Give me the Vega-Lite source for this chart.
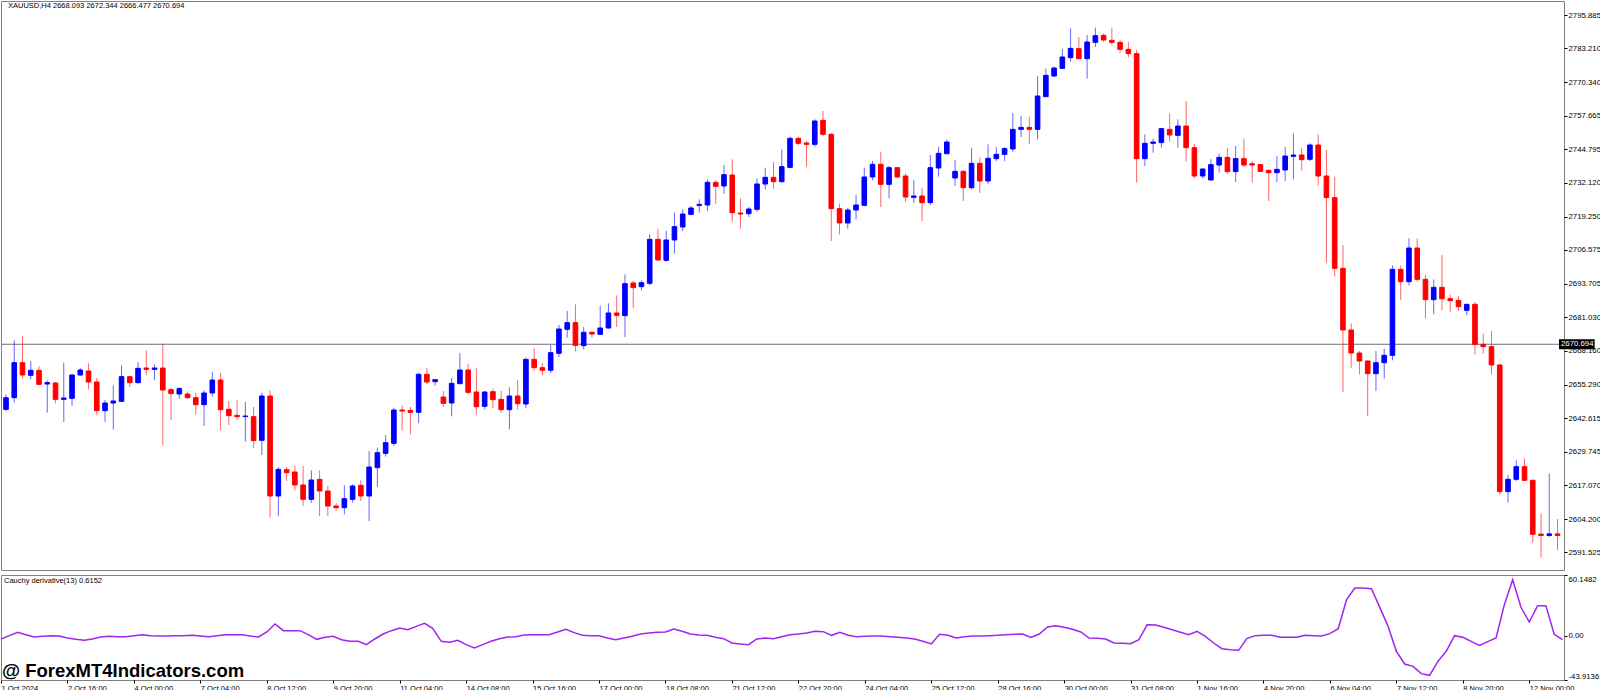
{
  "$schema": "https://vega.github.io/schema/vega-lite/v6.json",
  "padding": 0,
  "spacing": 3,
  "background": "#ffffff",
  "config": {
    "font": "Liberation Sans",
    "view": {"stroke": "#808080", "strokeWidth": 1},
    "axis": {"labelFont": "Liberation Sans", "labelColor": "#000000", "tickColor": "#000000", "domain": false, "grid": false, "labelOverlap": false}
  },
  "datasets": {
    "bars": [
      {"i":0,"o":2645.95,"h":2651.65,"l":2645.32,"c":2650.39,"v":-3.28},
      {"i":1,"o":2650.39,"h":2672.18,"l":2648.48,"c":2663.69,"v":0.03},
      {"i":2,"o":2663.69,"h":2673.83,"l":2657.74,"c":2659.00,"v":3.33},
      {"i":3,"o":2658.88,"h":2664.33,"l":2657.36,"c":2660.78,"v":1.02},
      {"i":4,"o":2660.78,"h":2662.30,"l":2655.20,"c":2655.46,"v":-1.29},
      {"i":5,"o":2655.58,"h":2656.98,"l":2644.68,"c":2656.09,"v":-0.63},
      {"i":6,"o":2655.96,"h":2656.34,"l":2648.23,"c":2649.75,"v":0.03},
      {"i":7,"o":2649.75,"h":2663.69,"l":2641.13,"c":2650.26,"v":-0.30},
      {"i":8,"o":2650.13,"h":2659.51,"l":2647.22,"c":2659.00,"v":-2.29},
      {"i":9,"o":2659.00,"h":2661.79,"l":2658.62,"c":2660.90,"v":-3.61},
      {"i":10,"o":2660.52,"h":2663.44,"l":2653.55,"c":2656.34,"v":-4.60},
      {"i":11,"o":2656.34,"h":2657.86,"l":2643.67,"c":2645.44,"v":-3.28},
      {"i":12,"o":2645.44,"h":2649.50,"l":2641.13,"c":2648.36,"v":-1.29},
      {"i":13,"o":2648.36,"h":2655.07,"l":2638.22,"c":2649.12,"v":-0.63},
      {"i":14,"o":2648.99,"h":2662.68,"l":2648.74,"c":2658.37,"v":-0.96},
      {"i":15,"o":2658.37,"h":2658.62,"l":2654.44,"c":2656.09,"v":-0.96},
      {"i":16,"o":2656.09,"h":2663.95,"l":2655.84,"c":2661.54,"v":0.03},
      {"i":17,"o":2661.67,"h":2668.38,"l":2658.88,"c":2661.16,"v":1.02},
      {"i":18,"o":2661.16,"h":2663.06,"l":2657.10,"c":2661.67,"v":0.03},
      {"i":19,"o":2661.67,"h":2670.92,"l":2632.26,"c":2653.30,"v":-0.30},
      {"i":20,"o":2653.43,"h":2654.19,"l":2641.89,"c":2651.91,"v":-0.30},
      {"i":21,"o":2651.78,"h":2654.44,"l":2650.00,"c":2653.81,"v":0.03},
      {"i":22,"o":2651.78,"h":2652.79,"l":2650.00,"c":2650.39,"v":0.03},
      {"i":23,"o":2650.39,"h":2652.16,"l":2644.05,"c":2647.72,"v":0.36},
      {"i":24,"o":2647.72,"h":2653.17,"l":2639.61,"c":2652.16,"v":-0.30},
      {"i":25,"o":2652.16,"h":2660.14,"l":2650.76,"c":2657.10,"v":-0.96},
      {"i":26,"o":2657.10,"h":2659.76,"l":2637.96,"c":2645.82,"v":0.03},
      {"i":27,"o":2645.95,"h":2649.12,"l":2639.99,"c":2643.54,"v":1.02},
      {"i":28,"o":2643.67,"h":2649.50,"l":2641.89,"c":2643.16,"v":1.02},
      {"i":29,"o":2643.16,"h":2648.74,"l":2633.66,"c":2643.41,"v":1.02},
      {"i":30,"o":2643.16,"h":2646.84,"l":2631.25,"c":2634.04,"v":-0.30},
      {"i":31,"o":2634.16,"h":2652.29,"l":2628.58,"c":2651.02,"v":-1.29},
      {"i":32,"o":2651.02,"h":2653.17,"l":2604.76,"c":2613.00,"v":3.66},
      {"i":33,"o":2613.00,"h":2624.02,"l":2605.39,"c":2623.14,"v":11.59},
      {"i":34,"o":2623.01,"h":2624.02,"l":2618.70,"c":2621.87,"v":4.98},
      {"i":35,"o":2622.12,"h":2624.40,"l":2615.15,"c":2617.18,"v":4.98},
      {"i":36,"o":2617.18,"h":2624.40,"l":2609.20,"c":2611.73,"v":4.98},
      {"i":37,"o":2611.73,"h":2622.76,"l":2610.46,"c":2619.08,"v":1.02},
      {"i":38,"o":2619.33,"h":2622.76,"l":2605.39,"c":2614.90,"v":-3.61},
      {"i":39,"o":2614.90,"h":2616.80,"l":2605.39,"c":2609.20,"v":-1.63},
      {"i":40,"o":2609.20,"h":2610.21,"l":2607.29,"c":2608.56,"v":-0.63},
      {"i":41,"o":2608.56,"h":2617.05,"l":2606.03,"c":2611.98,"v":-3.94},
      {"i":42,"o":2611.73,"h":2617.43,"l":2610.46,"c":2616.80,"v":-5.59},
      {"i":43,"o":2617.05,"h":2618.95,"l":2611.10,"c":2613.00,"v":-5.59},
      {"i":44,"o":2613.00,"h":2630.11,"l":2603.49,"c":2624.02,"v":-8.89},
      {"i":45,"o":2623.77,"h":2631.38,"l":2616.42,"c":2629.47,"v":-3.28},
      {"i":46,"o":2629.22,"h":2636.19,"l":2627.95,"c":2633.27,"v":1.68},
      {"i":47,"o":2633.02,"h":2646.58,"l":2632.01,"c":2645.69,"v":4.98},
      {"i":48,"o":2645.69,"h":2647.47,"l":2638.09,"c":2645.31,"v":7.62},
      {"i":49,"o":2645.56,"h":2646.84,"l":2636.44,"c":2644.81,"v":5.97},
      {"i":50,"o":2644.81,"h":2659.89,"l":2640.63,"c":2659.26,"v":9.28},
      {"i":51,"o":2659.26,"h":2661.79,"l":2655.45,"c":2656.34,"v":12.25},
      {"i":52,"o":2656.47,"h":2657.48,"l":2654.95,"c":2657.23,"v":6.96},
      {"i":53,"o":2650.64,"h":2652.92,"l":2646.84,"c":2648.23,"v":-5.59},
      {"i":54,"o":2648.36,"h":2657.86,"l":2643.29,"c":2655.84,"v":-6.58},
      {"i":55,"o":2655.71,"h":2667.37,"l":2655.45,"c":2660.90,"v":-4.60},
      {"i":56,"o":2660.90,"h":2663.31,"l":2651.65,"c":2652.41,"v":-8.89},
      {"i":57,"o":2652.54,"h":2661.54,"l":2644.05,"c":2646.96,"v":-12.20},
      {"i":58,"o":2647.09,"h":2652.92,"l":2645.95,"c":2652.54,"v":-8.89},
      {"i":59,"o":2652.67,"h":2653.81,"l":2646.33,"c":2649.62,"v":-5.59},
      {"i":60,"o":2649.75,"h":2652.92,"l":2644.68,"c":2645.82,"v":-2.95},
      {"i":61,"o":2645.82,"h":2654.31,"l":2638.35,"c":2651.02,"v":-1.29},
      {"i":62,"o":2651.02,"h":2657.10,"l":2645.82,"c":2648.10,"v":-0.96},
      {"i":63,"o":2647.98,"h":2665.59,"l":2646.33,"c":2664.96,"v":0.69},
      {"i":64,"o":2664.96,"h":2669.14,"l":2660.50,"c":2661.79,"v":1.02},
      {"i":65,"o":2661.79,"h":2663.50,"l":2658.90,"c":2660.80,"v":1.02},
      {"i":66,"o":2660.80,"h":2670.41,"l":2659.80,"c":2667.49,"v":1.02},
      {"i":67,"o":2667.24,"h":2678.02,"l":2665.85,"c":2676.49,"v":3.66},
      {"i":68,"o":2676.37,"h":2683.34,"l":2673.20,"c":2678.90,"v":6.30},
      {"i":69,"o":2678.90,"h":2685.87,"l":2667.88,"c":2670.29,"v":3.00},
      {"i":70,"o":2670.16,"h":2677.25,"l":2668.76,"c":2675.23,"v":0.36},
      {"i":71,"o":2675.23,"h":2675.73,"l":2673.20,"c":2674.59,"v":0.03},
      {"i":72,"o":2674.47,"h":2685.24,"l":2674.21,"c":2676.88,"v":0.03},
      {"i":73,"o":2676.88,"h":2686.25,"l":2676.62,"c":2682.58,"v":-2.29},
      {"i":74,"o":2682.58,"h":2689.29,"l":2677.25,"c":2681.69,"v":-3.94},
      {"i":75,"o":2681.56,"h":2697.29,"l":2673.45,"c":2693.73,"v":-2.29},
      {"i":76,"o":2693.99,"h":2694.75,"l":2684.35,"c":2692.21,"v":-0.63},
      {"i":77,"o":2692.59,"h":2695.00,"l":2691.20,"c":2694.11,"v":1.68},
      {"i":78,"o":2693.86,"h":2712.49,"l":2693.22,"c":2710.59,"v":2.67},
      {"i":79,"o":2710.59,"h":2714.64,"l":2702.60,"c":2702.73,"v":3.33},
      {"i":80,"o":2702.60,"h":2713.76,"l":2702.10,"c":2710.34,"v":3.66},
      {"i":81,"o":2710.34,"h":2720.73,"l":2705.14,"c":2715.40,"v":6.63},
      {"i":82,"o":2715.28,"h":2721.99,"l":2713.76,"c":2720.22,"v":4.32},
      {"i":83,"o":2720.09,"h":2723.26,"l":2719.71,"c":2722.50,"v":1.68},
      {"i":84,"o":2723.51,"h":2725.80,"l":2720.73,"c":2723.89,"v":0.69},
      {"i":85,"o":2723.64,"h":2733.40,"l":2721.36,"c":2732.26,"v":0.36},
      {"i":86,"o":2732.26,"h":2733.02,"l":2724.15,"c":2730.74,"v":-1.63},
      {"i":87,"o":2730.87,"h":2738.85,"l":2727.95,"c":2735.18,"v":-2.95},
      {"i":88,"o":2735.05,"h":2741.00,"l":2717.30,"c":2720.73,"v":-7.24},
      {"i":89,"o":2720.60,"h":2726.18,"l":2714.64,"c":2720.22,"v":-8.23},
      {"i":90,"o":2720.35,"h":2722.88,"l":2719.08,"c":2722.12,"v":-8.89},
      {"i":91,"o":2721.99,"h":2733.78,"l":2721.11,"c":2731.63,"v":-3.28},
      {"i":92,"o":2731.63,"h":2737.84,"l":2729.60,"c":2734.16,"v":-2.29},
      {"i":93,"o":2734.16,"h":2739.99,"l":2729.85,"c":2732.51,"v":-2.95},
      {"i":94,"o":2732.51,"h":2744.81,"l":2732.13,"c":2738.22,"v":-0.96},
      {"i":95,"o":2737.96,"h":2749.62,"l":2737.58,"c":2748.99,"v":1.02},
      {"i":96,"o":2748.99,"h":2749.62,"l":2746.33,"c":2747.09,"v":1.68},
      {"i":97,"o":2747.22,"h":2747.98,"l":2738.22,"c":2746.71,"v":2.67},
      {"i":98,"o":2746.71,"h":2756.21,"l":2745.82,"c":2755.58,"v":4.32},
      {"i":99,"o":2755.84,"h":2759.38,"l":2749.88,"c":2750.51,"v":3.99},
      {"i":100,"o":2750.51,"h":2751.15,"l":2709.95,"c":2722.25,"v":0.36},
      {"i":101,"o":2722.25,"h":2724.15,"l":2712.49,"c":2716.80,"v":3.33},
      {"i":102,"o":2716.80,"h":2722.63,"l":2714.64,"c":2721.74,"v":0.36},
      {"i":103,"o":2721.74,"h":2727.45,"l":2718.19,"c":2723.64,"v":-0.96},
      {"i":104,"o":2723.52,"h":2737.84,"l":2723.14,"c":2734.29,"v":-0.63},
      {"i":105,"o":2734.29,"h":2740.37,"l":2733.02,"c":2739.11,"v":-0.30},
      {"i":106,"o":2739.11,"h":2743.92,"l":2722.88,"c":2731.50,"v":-0.30},
      {"i":107,"o":2731.50,"h":2738.47,"l":2726.18,"c":2737.84,"v":-0.96},
      {"i":108,"o":2737.84,"h":2738.09,"l":2734.04,"c":2734.29,"v":-1.63},
      {"i":109,"o":2734.67,"h":2735.68,"l":2724.78,"c":2726.69,"v":-2.29},
      {"i":110,"o":2726.56,"h":2733.15,"l":2724.40,"c":2727.07,"v":-3.28},
      {"i":111,"o":2727.07,"h":2730.23,"l":2717.56,"c":2724.53,"v":-5.59},
      {"i":112,"o":2724.53,"h":2742.65,"l":2723.64,"c":2737.84,"v":-8.23},
      {"i":113,"o":2737.71,"h":2745.70,"l":2734.42,"c":2743.29,"v":1.35},
      {"i":114,"o":2743.16,"h":2748.48,"l":2742.91,"c":2747.60,"v":0.36},
      {"i":115,"o":2733.91,"h":2740.88,"l":2730.87,"c":2736.44,"v":-2.29},
      {"i":116,"o":2736.44,"h":2736.95,"l":2725.16,"c":2730.23,"v":-0.96},
      {"i":117,"o":2730.23,"h":2745.32,"l":2729.60,"c":2739.49,"v":-0.30},
      {"i":118,"o":2739.49,"h":2741.64,"l":2728.21,"c":2732.77,"v":-0.30},
      {"i":119,"o":2732.77,"h":2746.71,"l":2731.63,"c":2741.39,"v":0.03},
      {"i":120,"o":2741.26,"h":2745.70,"l":2740.37,"c":2742.91,"v":0.36},
      {"i":121,"o":2742.91,"h":2745.70,"l":2740.37,"c":2745.06,"v":1.02},
      {"i":122,"o":2744.94,"h":2758.62,"l":2743.79,"c":2752.41,"v":1.35},
      {"i":123,"o":2752.41,"h":2757.48,"l":2749.50,"c":2753.17,"v":1.68},
      {"i":124,"o":2753.17,"h":2757.23,"l":2746.71,"c":2752.41,"v":-1.63},
      {"i":125,"o":2752.41,"h":2772.69,"l":2748.61,"c":2765.09,"v":1.68},
      {"i":126,"o":2764.83,"h":2775.48,"l":2764.71,"c":2772.95,"v":8.62},
      {"i":127,"o":2772.69,"h":2776.24,"l":2772.31,"c":2775.73,"v":9.94},
      {"i":128,"o":2775.61,"h":2782.96,"l":2775.35,"c":2779.92,"v":8.29},
      {"i":129,"o":2779.66,"h":2790.82,"l":2778.14,"c":2783.21,"v":6.30},
      {"i":130,"o":2783.09,"h":2787.52,"l":2779.03,"c":2779.28,"v":3.66},
      {"i":131,"o":2779.28,"h":2788.28,"l":2771.68,"c":2785.62,"v":-2.29},
      {"i":132,"o":2785.49,"h":2791.07,"l":2783.72,"c":2788.03,"v":-2.62},
      {"i":133,"o":2788.15,"h":2788.91,"l":2785.75,"c":2786.38,"v":-3.28},
      {"i":134,"o":2786.25,"h":2791.07,"l":2784.35,"c":2785.49,"v":-7.24},
      {"i":135,"o":2785.49,"h":2786.50,"l":2781.50,"c":2782.83,"v":-7.57},
      {"i":136,"o":2782.83,"h":2785.60,"l":2779.80,"c":2781.20,"v":-7.90},
      {"i":137,"o":2781.20,"h":2782.50,"l":2732.13,"c":2741.26,"v":-3.94},
      {"i":138,"o":2741.26,"h":2750.51,"l":2738.47,"c":2747.09,"v":10.93},
      {"i":139,"o":2747.09,"h":2748.86,"l":2743.54,"c":2747.60,"v":10.60},
      {"i":140,"o":2747.35,"h":2752.90,"l":2745.44,"c":2752.67,"v":8.29},
      {"i":141,"o":2752.41,"h":2758.37,"l":2747.72,"c":2750.26,"v":5.97},
      {"i":142,"o":2750.13,"h":2756.22,"l":2745.44,"c":2753.68,"v":3.33},
      {"i":143,"o":2753.68,"h":2763.19,"l":2740.12,"c":2745.44,"v":1.02},
      {"i":144,"o":2745.44,"h":2746.96,"l":2733.78,"c":2734.67,"v":4.32},
      {"i":145,"o":2734.67,"h":2737.59,"l":2733.78,"c":2737.33,"v":-0.63},
      {"i":146,"o":2733.15,"h":2741.01,"l":2733.02,"c":2738.98,"v":-7.24},
      {"i":147,"o":2738.85,"h":2743.16,"l":2735.94,"c":2741.77,"v":-12.86},
      {"i":148,"o":2741.77,"h":2745.44,"l":2735.56,"c":2736.32,"v":-13.85},
      {"i":149,"o":2736.32,"h":2746.07,"l":2732.39,"c":2741.26,"v":-14.51},
      {"i":150,"o":2741.26,"h":2748.86,"l":2738.09,"c":2738.85,"v":-2.95},
      {"i":151,"o":2739.36,"h":2740.37,"l":2732.26,"c":2738.85,"v":0.03},
      {"i":152,"o":2738.98,"h":2739.36,"l":2736.32,"c":2736.44,"v":0.36},
      {"i":153,"o":2736.82,"h":2737.20,"l":2725.16,"c":2735.94,"v":0.36},
      {"i":154,"o":2735.94,"h":2742.27,"l":2732.39,"c":2737.20,"v":-1.63},
      {"i":155,"o":2736.95,"h":2745.70,"l":2732.77,"c":2742.27,"v":-1.63},
      {"i":156,"o":2742.15,"h":2750.77,"l":2733.40,"c":2742.65,"v":-1.63},
      {"i":157,"o":2742.65,"h":2745.44,"l":2736.82,"c":2740.88,"v":0.36},
      {"i":158,"o":2741.01,"h":2747.09,"l":2740.37,"c":2746.46,"v":0.03},
      {"i":159,"o":2746.46,"h":2750.51,"l":2731.12,"c":2734.67,"v":-0.30},
      {"i":160,"o":2734.67,"h":2744.56,"l":2701.72,"c":2726.43,"v":2.01},
      {"i":161,"o":2726.43,"h":2734.41,"l":2696.39,"c":2699.56,"v":6.96},
      {"i":162,"o":2699.56,"h":2708.43,"l":2652.54,"c":2676.11,"v":35.70},
      {"i":163,"o":2676.11,"h":2678.65,"l":2661.79,"c":2667.37,"v":47.27},
      {"i":164,"o":2667.37,"h":2668.13,"l":2659.26,"c":2664.33,"v":47.27},
      {"i":165,"o":2664.33,"h":2664.58,"l":2643.41,"c":2659.51,"v":46.61},
      {"i":166,"o":2659.51,"h":2668.13,"l":2652.92,"c":2663.69,"v":28.11},
      {"i":167,"o":2663.69,"h":2669.02,"l":2657.61,"c":2666.48,"v":9.28},
      {"i":168,"o":2666.48,"h":2700.70,"l":2664.58,"c":2699.18,"v":-15.50},
      {"i":169,"o":2699.18,"h":2700.70,"l":2687.52,"c":2694.49,"v":-28.05},
      {"i":170,"o":2694.49,"h":2710.97,"l":2693.10,"c":2707.29,"v":-30.37},
      {"i":171,"o":2707.29,"h":2710.97,"l":2694.49,"c":2695.38,"v":-37.64},
      {"i":172,"o":2695.38,"h":2697.03,"l":2680.55,"c":2687.65,"v":-39.29},
      {"i":173,"o":2687.65,"h":2695.38,"l":2682.07,"c":2692.34,"v":-25.41},
      {"i":174,"o":2692.34,"h":2704.63,"l":2683.72,"c":2688.03,"v":-15.50},
      {"i":175,"o":2688.03,"h":2689.68,"l":2683.08,"c":2687.27,"v":0.03},
      {"i":176,"o":2687.39,"h":2688.92,"l":2683.34,"c":2684.99,"v":-1.63},
      {"i":177,"o":2683.59,"h":2686.12,"l":2681.69,"c":2685.87,"v":-5.59},
      {"i":178,"o":2685.87,"h":2686.76,"l":2666.86,"c":2670.66,"v":-9.55},
      {"i":179,"o":2670.66,"h":2674.72,"l":2667.12,"c":2669.78,"v":-5.92},
      {"i":180,"o":2669.78,"h":2675.73,"l":2659.26,"c":2662.81,"v":-2.29},
      {"i":181,"o":2662.81,"h":2663.31,"l":2613.63,"c":2614.65,"v":30.75},
      {"i":182,"o":2614.65,"h":2620.98,"l":2610.46,"c":2619.34,"v":55.53},
      {"i":183,"o":2619.34,"h":2626.56,"l":2618.70,"c":2624.15,"v":28.11},
      {"i":184,"o":2624.15,"h":2627.32,"l":2618.70,"c":2618.95,"v":13.57},
      {"i":185,"o":2618.95,"h":2619.34,"l":2595.25,"c":2598.42,"v":29.76},
      {"i":186,"o":2598.50,"h":2606.40,"l":2589.50,"c":2598.00,"v":29.76},
      {"i":187,"o":2598.00,"h":2621.50,"l":2597.30,"c":2598.60,"v":1.35},
      {"i":188,"o":2598.60,"h":2604.20,"l":2592.40,"c":2598.00,"v":-3.94}
    ]
  },
  "vconcat": [
    {
      "width": 1563,
      "height": 569,
      "data": {"name": "bars"},
      "encoding": {
        "x": {"type": "quantitative", "scale": {"domain": [0, 188.18], "nice": false, "zero": false}, "axis": null},
        "y": {
          "type": "quantitative",
          "scale": {"domain": [2584.86, 2801.21], "nice": false, "zero": false},
          "axis": {
            "orient": "right",
            "title": null,
            "values": [2795.885, 2783.21, 2770.34, 2757.665, 2744.795, 2732.12, 2719.25, 2706.575, 2693.705, 2681.03, 2668.16, 2655.29, 2642.615, 2629.745, 2617.07, 2604.2, 2591.525],
            "format": ".3f",
            "tickSize": 3,
            "labelPadding": 1,
            "labelFontSize": 7.8
          }
        }
      },
      "layer": [
        {
          "data": {"values": [{"p": 2670.694}]},
          "mark": {"type": "rule", "color": "#707070", "strokeWidth": 1},
          "encoding": {
            "y": {"field": "p"}
          }
        },
        {
          "mark": {"type": "rule", "strokeWidth": 1, "opacity": 0.6, "clip": true},
          "encoding": {
            "x": {"field": "i"},
            "y": {"field": "l"},
            "y2": {"field": "h"},
            "color": {"condition": {"test": "datum.c >= datum.o", "value": "#0000ff"}, "value": "#ff0000"}
          }
        },
        {
          "mark": {"type": "bar", "width": 4.6, "strokeWidth": 1, "clip": true},
          "encoding": {
            "x": {"field": "i"},
            "y": {"field": "o"},
            "y2": {"field": "c"},
            "color": {"condition": {"test": "datum.c >= datum.o", "value": "#0000ff"}, "value": "#ff0000"},
            "stroke": {"condition": {"test": "datum.c >= datum.o", "value": "#0000ff"}, "value": "#ff0000"}
          }
        },
        {
          "data": {"values": [{"p": 2670.694, "a": 188.18, "b": 192.5, "t": 2672.6, "u": 2668.8}]},
          "mark": {"type": "rect", "color": "#000000"},
          "encoding": {
            "x": {"field": "a"},
            "x2": {"field": "b"},
            "y": {"field": "t"},
            "y2": {"field": "u"}
          }
        },
        {
          "data": {"values": [{"p": 2670.694, "a": 188.18}]},
          "mark": {"type": "text", "align": "left", "baseline": "middle", "dx": 2, "fontSize": 7.8, "color": "#ffffff", "text": "2670.694"},
          "encoding": {
            "x": {"field": "a"},
            "y": {"field": "p"}
          }
        },
        {
          "data": {"values": [{"p": 2801.21, "a": 0}]},
          "mark": {"type": "text", "align": "left", "baseline": "top", "dx": 2, "dy": 1, "fontSize": 7.5, "color": "#000000", "text": "XAUUSD,H4  2668.093 2672.344 2666.477 2670.694"},
          "encoding": {
            "x": {"field": "a"},
            "y": {"field": "p"}
          }
        }
      ]
    },
    {
      "width": 1563,
      "height": 105,
      "encoding": {
        "x": {
          "type": "quantitative",
          "scale": {"domain": [0, 188.18], "nice": false, "zero": false},
          "axis": {
            "orient": "bottom",
            "title": null,
            "values": [0, 8, 16, 24, 32, 40, 48, 56, 64, 72, 80, 88, 96, 104, 112, 120, 128, 136, 144, 152, 160, 168, 176, 184],
            "labelExpr": "['1 Oct 2024','2 Oct 16:00','4 Oct 00:00','7 Oct 04:00','8 Oct 12:00','9 Oct 20:00','11 Oct 04:00','14 Oct 08:00','15 Oct 16:00','17 Oct 00:00','18 Oct 08:00','21 Oct 12:00','22 Oct 20:00','24 Oct 04:00','25 Oct 12:00','28 Oct 16:00','30 Oct 00:00','31 Oct 08:00','1 Nov 16:00','4 Nov 20:00','6 Nov 04:00','7 Nov 12:00','8 Nov 20:00','12 Nov 00:00'][datum.value / 8]",
            "labelAlign": "left",
            "labelBaseline": "top",
            "labelFlush": false,
            "labelPadding": 1,
            "tickSize": 3,
            "labelFontSize": 7.5
          }
        },
        "y": {
          "type": "quantitative",
          "scale": {"domain": [-43.9136, 60.1482], "nice": false, "zero": false},
          "axis": {
            "orient": "right",
            "title": null,
            "values": [60.1482, 0, -43.9136],
            "labelExpr": "datum.value == 0 ? '0.00' : '' + datum.value",
            "labelFlush": true,
            "tickSize": 3,
            "labelPadding": 1,
            "labelFontSize": 7.8
          }
        }
      },
      "layer": [
        {
          "data": {"name": "bars"},
          "mark": {"type": "line", "color": "#a024f0", "strokeWidth": 1.5, "clip": true},
          "encoding": {
            "x": {"field": "i"},
            "y": {"field": "v"}
          }
        },
        {
          "data": {"values": [{"p": 60.1482, "a": 0}]},
          "mark": {"type": "text", "align": "left", "baseline": "top", "dx": 3, "dy": 2, "fontSize": 7.5, "color": "#000000", "text": "Cauchy derivative(13) 0.6152"},
          "encoding": {
            "x": {"field": "a"},
            "y": {"field": "p"}
          }
        },
        {
          "data": {"values": [{"p": -43.9136, "a": 0}]},
          "mark": {"type": "text", "align": "left", "baseline": "alphabetic", "dx": 1, "dy": -3, "fontSize": 18.5, "fontWeight": "bold", "color": "#000000", "text": "@ ForexMT4Indicators.com"},
          "encoding": {
            "x": {"field": "a"},
            "y": {"field": "p"}
          }
        }
      ]
    }
  ]
}
